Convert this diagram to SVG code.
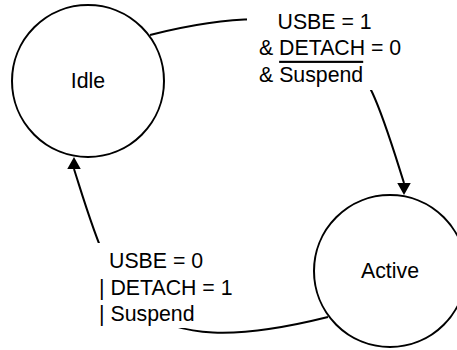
<svg xmlns="http://www.w3.org/2000/svg" width="457" height="350" viewBox="0 0 457 350">
  <style>
    .state { fill: #ffffff; stroke: #000000; stroke-width: 2; }
    .edge { fill: none; stroke: #000000; stroke-width: 2; }
    .lbl-bg { fill: #ffffff; stroke: none; }
    text { font-family: "Liberation Sans", Arial, Helvetica, sans-serif; font-size: 21.3px; fill: #000000; }
    .center { text-anchor: middle; }
    .bar { text-decoration: overline; }
  </style>
  <defs>
    <marker id="arrowDown" markerUnits="userSpaceOnUse" markerWidth="13.5" markerHeight="13.5" viewBox="0 0 12 13.5" refX="0" refY="6.75" orient="90">
      <path d="M0,0 L12,6.75 L0,13.5 Z" fill="#000000"/>
    </marker>
    <marker id="arrowUp" markerUnits="userSpaceOnUse" markerWidth="13.5" markerHeight="13.5" viewBox="0 0 12 13.5" refX="0" refY="6.75" orient="-90">
      <path d="M0,0 L12,6.75 L0,13.5 Z" fill="#000000"/>
    </marker>
  </defs>

  <g id="connectors">
    <g id="edge-idle-active">
      <path class="edge" d="M150,35 C350,-15 365,60 404,183" marker-end="url(#arrowDown)"/>
      <rect class="lbl-bg" x="247" y="4" width="167" height="86"/>
      <text x="277.5" y="28.5">USBE = 1</text>
      <text x="259" y="55.2">&amp; DETACH = 0</text>
      <text x="259" y="81.8">&amp; <tspan class="bar">Suspend</tspan></text>
    </g>
    <g id="edge-active-idle">
      <path class="edge" d="M328,317 C128,367 113,292 74,169" marker-end="url(#arrowUp)"/>
      <rect class="lbl-bg" x="94" y="243" width="146" height="85"/>
      <text x="109" y="268">USBE = 0</text>
      <text x="99" y="294.7">| DETACH = 1</text>
      <text x="99" y="321.4">| Suspend</text>
    </g>
  </g>

  <g id="idle">
    <circle class="state" cx="88" cy="81" r="76"/>
    <text class="center" x="88" y="88">Idle</text>
  </g>

  <g id="active">
    <circle class="state" cx="390" cy="271" r="76"/>
    <text class="center" x="390" y="278">Active</text>
  </g>
</svg>
